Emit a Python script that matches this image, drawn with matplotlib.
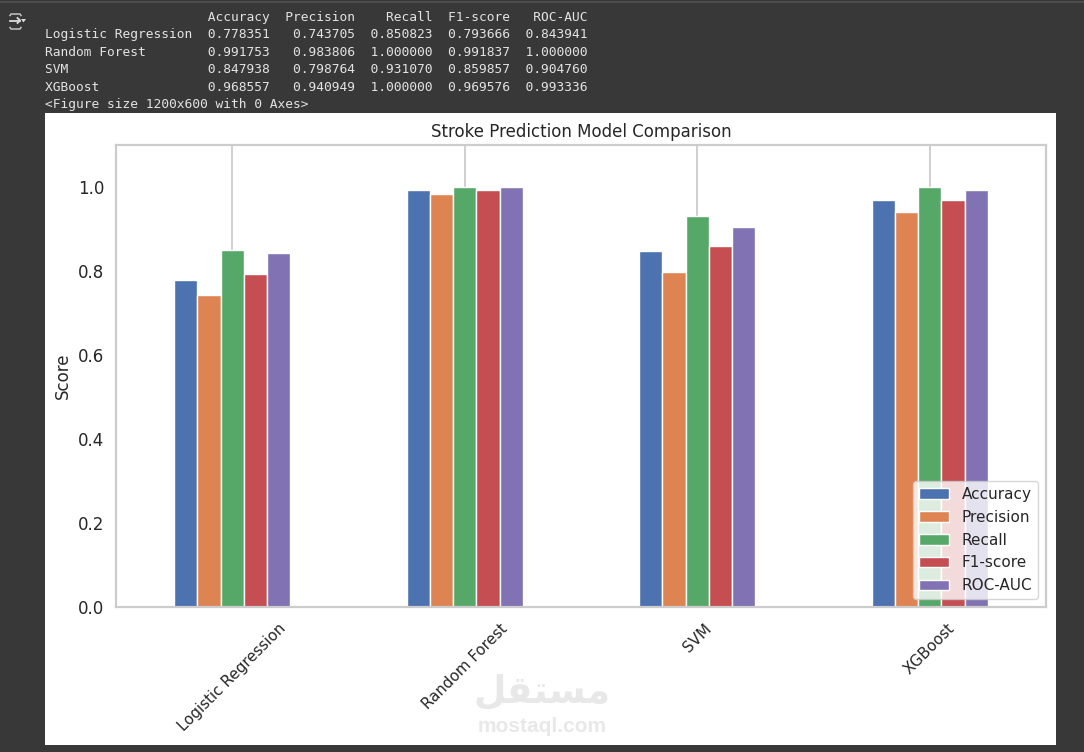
import matplotlib
matplotlib.use('Agg')
import matplotlib.pyplot as plt
import numpy as np
import pandas as pd
from matplotlib.patches import Rectangle

models = ['Logistic Regression', 'Random Forest', 'SVM', 'XGBoost']
accuracy = [0.778351, 0.991753, 0.847938, 0.968557]
precision = [0.743705, 0.983806, 0.798764, 0.940949]
recall = [0.850823, 1.000000, 0.931070, 1.000000]
f1_score = [0.793666, 0.991837, 0.859857, 0.969576]
roc_auc = [0.843941, 1.000000, 0.904760, 0.993336]
metric_names = ['Accuracy', 'Precision', 'Recall', 'F1-score', 'ROC-AUC']
bar_colors = ['#4C72B0', '#DD8452', '#55A868', '#C44E52', '#8172B3']

W, H = 1084, 752
BG = '#383838'
TEXT = '#262626'

df = pd.DataFrame(dict(zip(metric_names, [accuracy, precision, recall, f1_score, roc_auc])), index=models)


def px_box(left, top, right, bottom):
    return [left / W, 1 - bottom / H, (right - left) / W, (bottom - top) / H]


fig = plt.figure(figsize=(W / 100, H / 100), dpi=100, facecolor=BG)

# notebook cell output: the dataframe printout, columns two spaces apart
col_widths = [max(len(n), 8) for n in metric_names]
header = ' ' * 19 + ''.join('  ' + n.rjust(w) for n, w in zip(metric_names, col_widths))
out_lines = [header]
for name, row in zip(models, df.values):
    out_lines.append(name.ljust(19) + ''.join('  ' + f'{v:.6f}'.rjust(w) for v, w in zip(row, col_widths)))
out_lines.append('<Figure size 1200x600 with 0 Axes>')
for i, line in enumerate(out_lines):
    fig.text(45 / W, 1 - (17.5 + i * 17.4) / H, line, family='DejaVu Sans Mono', fontsize=9.24,
             color='#e3e3e3', va='center', ha='left')

# top border of the cell
fig.add_artist(Rectangle((0, 1 - 2.5 / H), 1, 1.5 / H, transform=fig.transFigure, color='#4d4d4d', lw=0))

# output icon in the gutter
icon = fig.add_axes([0, 0, 1, 1], facecolor='none')
icon.set_xlim(0, W)
icon.set_ylim(H, 0)
icon.axis('off')
icon.plot([10, 20], [20.5, 20.5], color='#dcdcdc', lw=1.3)
icon.plot([17.5, 20, 17.5], [18, 20.5, 23], color='#dcdcdc', lw=1.3)
icon.plot([10, 11, 20, 21], [15.5, 14, 14, 15.5], color='#c4c4c4', lw=1.1)
icon.plot([10, 11, 20, 21], [27.5, 29, 29, 27.5], color='#c4c4c4', lw=1.1)
icon.fill([21, 26, 23.5], [19, 19, 22.5], color='#dcdcdc', lw=0)

# white panel the chart sits on
icon.add_patch(Rectangle((45, 113), 1011, 632, facecolor='white', edgecolor='none'))

ax = fig.add_axes(px_box(116, 145, 1046, 607), facecolor='white')
df.plot(kind='bar', ax=ax, width=0.5, color=bar_colors, edgecolor='white', linewidth=1.0, zorder=2)

ax.set_xlim(-0.5, 3.5)
ax.set_ylim(0, 1.1)
ax.set_yticks(np.arange(0, 1.01, 0.2))
ax.grid(axis='x', color='#cccccc', lw=1.3, zorder=1)
ax.set_axisbelow(True)
for spine in ax.spines.values():
    spine.set_color('#cccccc')
    spine.set_linewidth(1.6)
ax.tick_params(axis='y', length=0, labelsize=12, labelcolor=TEXT, pad=8.5)
ax.tick_params(axis='x', length=0, labelsize=10.9, labelcolor=TEXT, pad=10)
ax.set_xticklabels(models, rotation=45, ha='center')
ax.set_ylabel('Score', fontsize=12, color=TEXT, labelpad=4.5)
ax.set_xlabel('')
ax.set_title('Stroke Prediction Model Comparison', fontsize=12, color=TEXT, pad=6)

ax.legend(loc='lower right', fontsize=11, frameon=True, framealpha=0.8, edgecolor='#cccccc',
          labelcolor=TEXT, borderaxespad=0.5, labelspacing=0.51, handlelength=2.0, handleheight=0.7)

# site watermark
fig.text(542 / W, 1 - 692 / H, '\ufede\ufed8\ufe98\ufeb4\ufee3', family='DejaVu Sans', weight='bold',
         fontsize=27, color='#e8e8e8', ha='center', va='center', zorder=5)
fig.text(542 / W, 1 - 726 / H, 'mostaql.com', family='Liberation Sans', weight='bold',
         fontsize=15, color='#e8e8e8', ha='center', va='center', zorder=5)

fig.savefig('out.png', dpi=100, facecolor=BG)
